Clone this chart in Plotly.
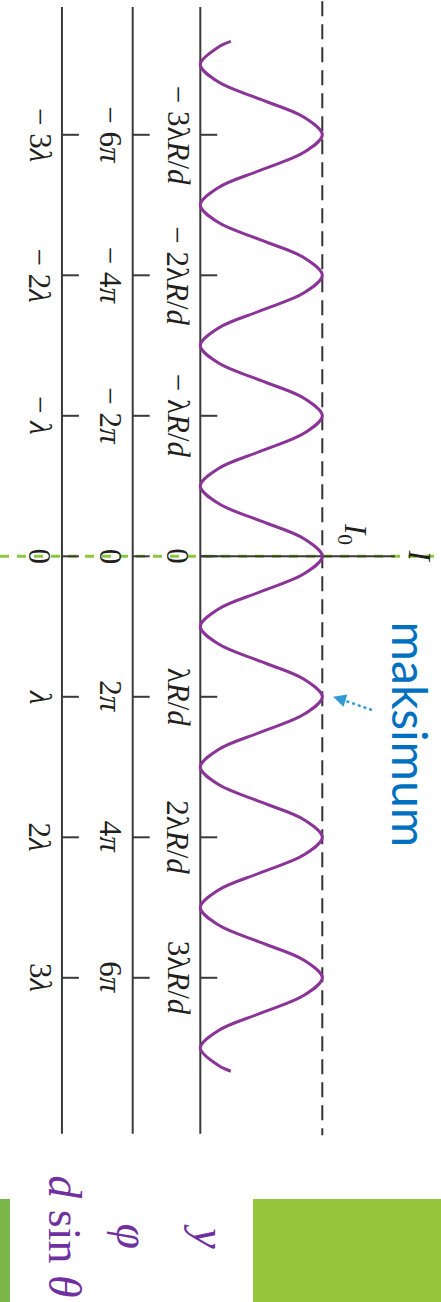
import plotly.graph_objects as go

# ---- data ----
# position along the screen in units of lambda*R/d, and relative intensity I/I0
pos = [-3.665,
       -3.625, -3.5, -3.375, -3.25, -3.125, -3.0, -2.875, -2.75,
       -2.625, -2.5, -2.375, -2.25, -2.125, -2.0, -1.875, -1.75,
       -1.625, -1.5, -1.375, -1.25, -1.125, -1.0, -0.875, -0.75,
       -0.625, -0.5, -0.375, -0.25, -0.125, 0.0, 0.125, 0.25,
       0.375, 0.5, 0.625, 0.75, 0.875, 1.0, 1.125, 1.25,
       1.375, 1.5, 1.625, 1.75, 1.875, 2.0, 2.125, 2.25,
       2.375, 2.5, 2.625, 2.75, 2.875, 3.0, 3.125, 3.25,
       3.375, 3.5, 3.625,
       3.665]
intensity = [0.25,
             0.15, 0.0, 0.15, 0.5, 0.85, 1.0, 0.85, 0.5,
             0.15, 0.0, 0.15, 0.5, 0.85, 1.0, 0.85, 0.5,
             0.15, 0.0, 0.15, 0.5, 0.85, 1.0, 0.85, 0.5,
             0.15, 0.0, 0.15, 0.5, 0.85, 1.0, 0.85, 0.5,
             0.15, 0.0, 0.15, 0.5, 0.85, 1.0, 0.85, 0.5,
             0.15, 0.0, 0.15, 0.5, 0.85, 1.0, 0.85, 0.5,
             0.15, 0.0, 0.15, 0.5, 0.85, 1.0, 0.85, 0.5,
             0.15, 0.0, 0.15,
             0.25]

tick_pos = [-3, -2, -1, 0, 1, 2, 3]
labels_y = ["− 3λ<i>R</i>/<i>d</i>", "− 2λ<i>R</i>/<i>d</i>", "− λ<i>R</i>/<i>d</i>", "0",
            "λ<i>R</i>/<i>d</i>", "2λ<i>R</i>/<i>d</i>", "3λ<i>R</i>/<i>d</i>"]
labels_phi = ["− 6<i>π</i>", "− 4<i>π</i>", "− 2<i>π</i>", "0",
              "2<i>π</i>", "4<i>π</i>", "6<i>π</i>"]
labels_dsin = ["− 3<i>λ</i>", "− 2<i>λ</i>", "− <i>λ</i>", "0",
               "<i>λ</i>", "2<i>λ</i>", "3<i>λ</i>"]
axis_names = ["<i>y</i>", "<i>φ</i>", "<i>d</i> sin <i>θ</i>"]
annot_text = "maksimum"
peak_label = "<i>I</i><sub>0</sub>"
int_label = "<i>I</i>"

# ---- layout geometry ----
AX_POS = [0.0, -0.554, -1.134]      # the three scale lines, in intensity units
NAME_OFF = [0.08, 0.0, 0.025]
AX_TOP, AX_BOT = -3.91, 4.11
TICK_LEN = 0.139
LBL_OFF = -0.182
XR = [-1.6418, 1.9730]
YR = [5.3075, -3.9594]

TXT = "#231f20"
SERIF = "Liberation Serif"
PURPLE = "#8b3497"
LBL_PURPLE = "#7030a0"
GREEN = "#8dc63f"

fig = go.Figure()

fig.add_trace(go.Scatter(x=intensity, y=pos, mode="lines",
                         line=dict(color=PURPLE, width=3, shape="spline"),
                         hoverinfo="skip", showlegend=False))

shapes = []
for ax in AX_POS:
    shapes.append(dict(type="line", xref="x", yref="y", x0=ax, x1=ax, y0=AX_TOP, y1=AX_BOT,
                       line=dict(color="#3a3a3a", width=2), layer="below"))
    for t in tick_pos:
        shapes.append(dict(type="line", xref="x", yref="y", x0=ax, x1=ax + TICK_LEN, y0=t, y1=t,
                           line=dict(color="#3a3a3a", width=2), layer="below"))
# I0 dashed level
shapes.append(dict(type="line", xref="x", yref="y", x0=1, x1=1, y0=-3.95, y1=AX_BOT + 0.01,
                   line=dict(color="#333333", width=2, dash="15px,8px"), layer="below"))
# intensity axis
shapes.append(dict(type="line", xref="x", yref="y", x0=0, x1=1.596, y0=0, y1=0,
                   line=dict(color="#3a3a3a", width=2), layer="below"))
# green dashed centre line
shapes.append(dict(type="line", xref="paper", yref="y", x0=0, x1=1, y0=0, y1=0,
                   line=dict(color=GREEN, width=3, dash="9px,8px"), layer="below"))
# green decorations
shapes.append(dict(type="rect", xref="paper", yref="paper", x0=253 / 441, x1=1, y0=0, y1=1 - 1199 / 1302,
                   fillcolor="#96c43a", line=dict(width=0), layer="below"))
shapes.append(dict(type="rect", xref="paper", yref="paper", x0=0, x1=10 / 441, y0=0, y1=1 - 1199 / 1302,
                   fillcolor="#7ab648", line=dict(width=0), layer="below"))

annotations = []
for ax, lbls in zip(AX_POS, [labels_y, labels_phi, labels_dsin]):
    for t, s in zip(tick_pos, lbls):
        annotations.append(dict(x=ax + LBL_OFF, y=t, xref="x", yref="y", text=s, showarrow=False,
                                textangle=90, xanchor="center", yanchor="middle",
                                font=dict(family=SERIF, size=31, color=TXT)))
for ax, off, s in zip(AX_POS, NAME_OFF, axis_names):
    annotations.append(dict(x=ax + off, y=4.84, xref="x", yref="y", text=s, showarrow=False,
                            textangle=90, xanchor="center", yanchor="middle",
                            font=dict(family=SERIF, size=46, color=LBL_PURPLE)))
annotations.append(dict(x=1.80, y=0, xref="x", yref="y", text=int_label, showarrow=False,
                        textangle=90, xanchor="center", yanchor="middle",
                        font=dict(family=SERIF, size=31, color=TXT)))
annotations.append(dict(x=1.25, y=-0.16, xref="x", yref="y", text=peak_label, showarrow=False,
                        textangle=90, xanchor="center", yanchor="middle",
                        font=dict(family=SERIF, size=31, color=TXT)))
annotations.append(dict(x=1.72, y=1.27, xref="x", yref="y", text=annot_text, showarrow=False,
                        textangle=90, xanchor="center", yanchor="middle",
                        font=dict(family="Lato", size=48, color="#0070c0")))
# dotted arrow pointing at the first-order maximum
fig.add_trace(go.Scatter(x=[1.407, 1.16], y=[1.094, 1.02], mode="lines",
                         line=dict(color="#3399d6", width=2.5, dash="dot"),
                         hoverinfo="skip", showlegend=False))
annotations.append(dict(x=1.088, y=1.0, ax=1.20, ay=1.03, xref="x", yref="y", axref="x", ayref="y",
                        text="", showarrow=True, arrowhead=2, arrowsize=1.3, arrowwidth=2,
                        arrowcolor="#3399d6"))

fig.update_layout(width=441, height=1302, margin=dict(l=0, r=0, t=0, b=0),
                  paper_bgcolor="white", plot_bgcolor="white",
                  xaxis=dict(range=XR, visible=False, fixedrange=True),
                  yaxis=dict(range=YR, visible=False, fixedrange=True),
                  shapes=shapes, annotations=annotations, showlegend=False)

fig.write_html("out.html", config={"displayModeBar": False},
               post_script="document.body.style.margin='0';document.body.style.overflow='hidden';")
